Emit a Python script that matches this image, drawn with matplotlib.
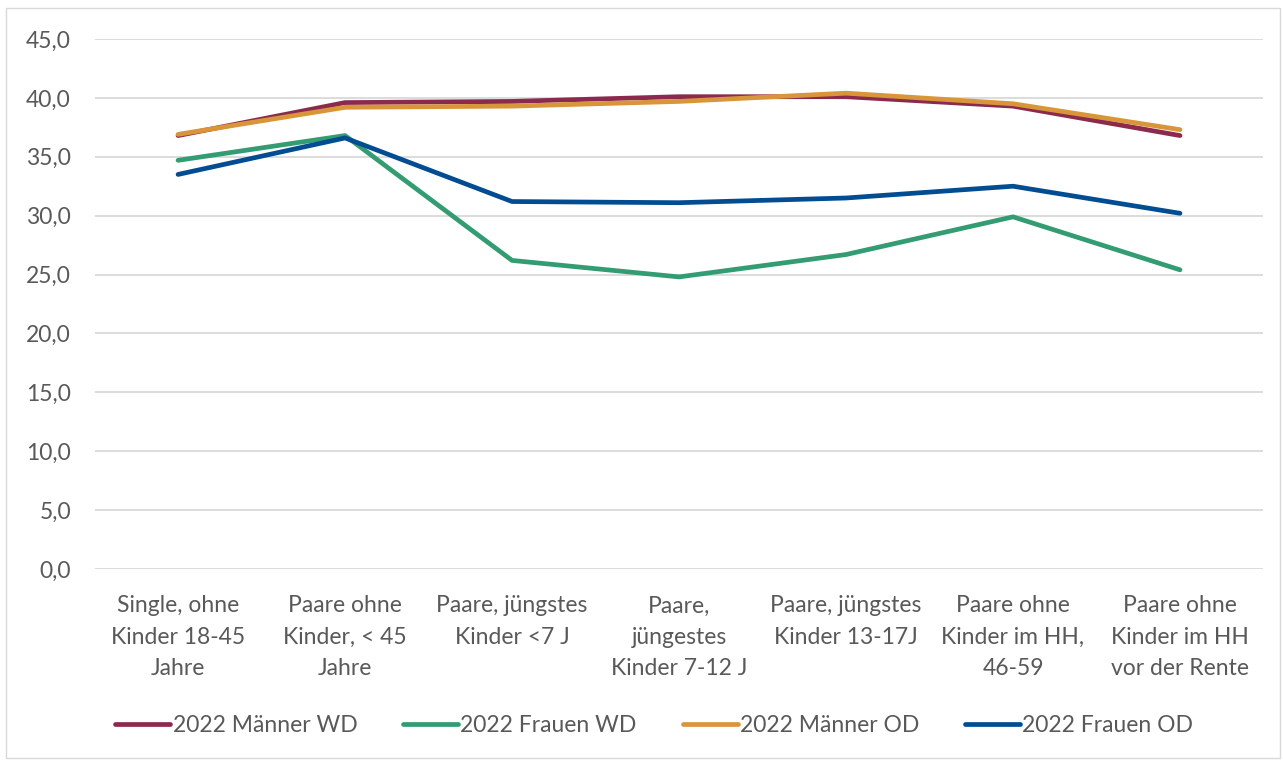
import matplotlib
matplotlib.use("Agg")
import matplotlib.pyplot as plt
from matplotlib.patches import Rectangle

categories = [
    "Single, ohne\nKinder 18-45\nJahre",
    "Paare ohne\nKinder, < 45\nJahre",
    "Paare, jüngstes\nKinder <7 J",
    "Paare,\njüngestes\nKinder 7-12 J",
    "Paare, jüngstes\nKinder 13-17J",
    "Paare ohne\nKinder im HH,\n46-59",
    "Paare ohne\nKinder im HH\nvor der Rente",
]
maenner_wd = [36.8, 39.6, 39.7, 40.1, 40.1, 39.3, 36.8]
frauen_wd = [34.7, 36.8, 26.2, 24.8, 26.7, 29.9, 25.4]
maenner_od = [36.9, 39.2, 39.3, 39.7, 40.4, 39.5, 37.3]
frauen_od = [33.5, 36.6, 31.2, 31.1, 31.5, 32.5, 30.2]
series_names = ["2022 Männer WD", "2022 Frauen WD", "2022 Männer OD", "2022 Frauen OD"]
yticks = [0, 5, 10, 15, 20, 25, 30, 35, 40, 45]

colors = ["#8B2A4C", "#339C73", "#D9953A", "#024C92"]
txt = "#595959"
plt.rcParams['font.family'] = ['Lato', 'DejaVu Sans']

fig = plt.figure(figsize=(12.83, 7.6), dpi=100)
ax = fig.add_axes([0.0737, 0.2513, 0.9111, 0.6974])

x = list(range(len(categories)))
for vals, c, name in zip([maenner_wd, frauen_wd, maenner_od, frauen_od], colors, series_names):
    ax.plot(x, vals, color=c, lw=3.4, label=name, solid_capstyle='round', solid_joinstyle='round')

ax.set_xlim(-0.5, len(categories) - 0.5)
ax.set_ylim(0, 45)
ax.set_yticks(yticks)
ax.set_yticklabels([f"{v:.1f}".replace(".", ",") for v in yticks], color=txt, fontsize=16.5)
ax.set_xticks(x)
ax.set_xticklabels(categories, color=txt, fontsize=16.5, linespacing=1.6)
ax.tick_params(axis='both', length=0)
ax.tick_params(axis='y', pad=17)
ax.tick_params(axis='x', pad=19)
for s in ax.spines.values():
    s.set_visible(False)
ax.grid(axis='y', color='#D9D9D9', lw=1.3)
ax.set_axisbelow(True)

fig.legend(loc='center', bbox_to_anchor=(0.51, 0.046), ncol=4, frameon=False,
           fontsize=16.5, handlelength=2.4, handletextpad=0.1, columnspacing=2.0,
           labelcolor=txt)

fig.patches.append(Rectangle((0.005, 0.003), 0.993, 0.986, transform=fig.transFigure,
                             fill=False, edgecolor='#D9D9D9', lw=1))

fig.savefig("out.png", dpi=100)
